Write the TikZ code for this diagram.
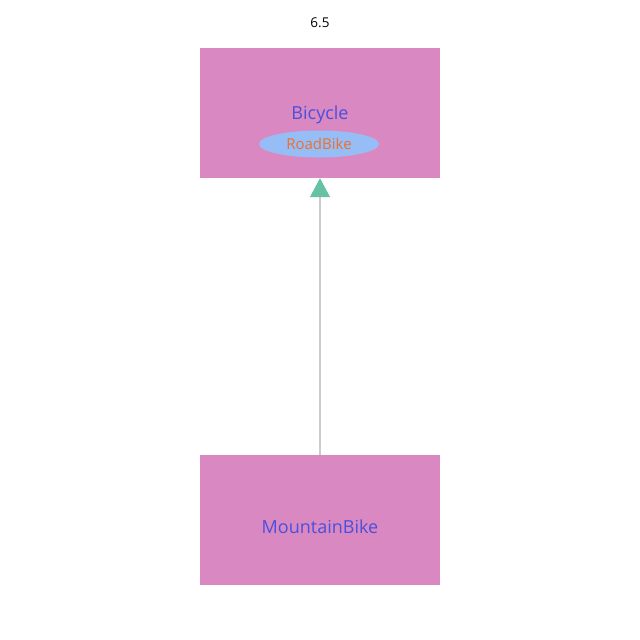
\documentclass[tikz,border=0pt]{standalone}
\usepackage{fontspec}
\setmainfont{Open Sans}
\usepackage{tikz}
\usetikzlibrary{arrows.meta, shapes.geometric}
\definecolor{boxpink}{HTML}{DA88C1}
\definecolor{nameblue}{HTML}{4B4FDB}
\definecolor{ovalblue}{HTML}{96BDF6}
\definecolor{nameorange}{HTML}{EF6F2E}
\definecolor{arrowgreen}{HTML}{66C2A5}
\definecolor{linegrey}{HTML}{CCCCCC}

\begin{document}
\begin{tikzpicture}[x=1pt, y=-1pt]
\tikzstyle{classbox}=[rectangle, fill=boxpink, minimum width=240pt, minimum height=130pt, inner sep=0pt]
\tikzstyle{classname}=[text=nameblue, font=\fontsize{18}{21}\selectfont, inner sep=0pt]
\tikzstyle{subclass}=[ellipse, fill=ovalblue, minimum width=120pt, minimum height=27pt, inner sep=0pt, text=nameorange, font=\fontsize{15}{17}\selectfont]
\tikzstyle{inherit}=[draw=linegrey, line width=1.3pt, -{Triangle[width=20pt, length=19pt, color=arrowgreen]}]

\useasboundingbox (0,0) rectangle (640,640);

\node[font=\fontsize{13.5}{16}\selectfont] (title) at (320,23) {6.5};

\node[classbox] (bicycle) at (320,113) {};
\node[classname] (bicyclename) at (320,115) {Bicycle};
\node[subclass] (roadbike) at (319,144) {RoadBike};

\node[classbox] (mountainbike) at (320,520) {};
\node[classname] (mountainbikename) at (320,527) {MountainBike};

\draw[inherit] (mountainbike.north) -- (bicycle.south);

\end{tikzpicture}
\end{document}
